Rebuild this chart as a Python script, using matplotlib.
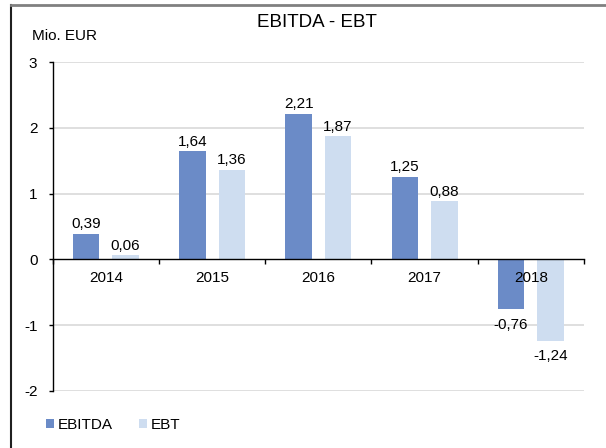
import numpy as np
import matplotlib
matplotlib.use("Agg")
import matplotlib.pyplot as plt
from matplotlib.lines import Line2D

plt.rcParams["font.family"] = ["Liberation Sans", "DejaVu Sans"]
plt.rcParams["axes.unicode_minus"] = False

jahre = ["2014", "2015", "2016", "2017", "2018"]
ebitda = [0.39, 1.64, 2.21, 1.25, -0.76]
ebt = [0.06, 1.36, 1.87, 0.88, -1.24]

farbe_ebitda = "#6B8BC7"
farbe_ebt = "#CEDDF0"

fig = plt.figure(figsize=(6.06, 4.48), dpi=100)
ax = fig.add_axes([52.7 / 606, 1 - 391 / 448, (584 - 52.7) / 606, (391 - 62) / 448])

x = np.arange(len(jahre))
b1 = ax.bar(x - 0.186, ebitda, width=0.25, color=farbe_ebitda, label="EBITDA", zorder=1)
b2 = ax.bar(x + 0.186, ebt, width=0.25, color=farbe_ebt, label="EBT", zorder=1)

def beschriften(bars, werte):
    for rect, w in zip(bars, werte):
        txt = f"{w:.2f}".replace(".", ",")
        cx = rect.get_x() + rect.get_width() / 2
        if w >= 0:
            ax.annotate(txt, (cx, w), xytext=(0, 2), textcoords="offset points",
                        ha="center", va="bottom", fontsize=11, zorder=5)
        else:
            ax.annotate(txt, (cx, w), xytext=(0, -6), textcoords="offset points",
                        ha="center", va="top", fontsize=11, zorder=5)

beschriften(b1, ebitda)
beschriften(b2, ebt)

ax.set_xlim(-0.5, 4.5)
ax.set_ylim(-2, 3)
ax.set_yticks(range(-2, 4))
for yv in range(-2, 4):
    if yv != 0:
        ax.axhline(yv, color="#D9D9D9", lw=1.2, zorder=0)

ax.set_axisbelow(False)
ax.spines["top"].set_visible(False)
ax.spines["right"].set_visible(False)
ax.spines["bottom"].set_position(("data", 0))
ax.spines["bottom"].set_linewidth(1.0)
ax.spines["left"].set_linewidth(1.0)

ax.set_xticks(np.arange(-0.5, 5, 1.0))
ax.set_xticklabels([])
ax.set_xticks(x, minor=True)
ax.set_xticklabels(jahre, minor=True)
ax.tick_params(axis="x", which="major", direction="out", length=3.6, width=1.0)
ax.tick_params(axis="x", which="minor", length=0, pad=8, labelsize=11)
ax.tick_params(axis="y", direction="out", length=3, width=1.0, pad=8, labelsize=11)

fig.text(317 / 606, 1 - 27 / 448, "EBITDA - EBT", ha="center", va="baseline", fontsize=13.5)
fig.text(32 / 606, 1 - 40 / 448, "Mio. EUR", ha="left", va="baseline", fontsize=11)

fig.legend(handles=[b1, b2], labels=["EBITDA", "EBT"], loc="center left",
           bbox_to_anchor=(46 / 606, 1 - 425 / 448), ncol=2, frameon=False,
           fontsize=11, handlelength=0.5, handleheight=0.5, handletextpad=0.25,
           columnspacing=1.75, borderpad=0, borderaxespad=0)

# Rahmen links und oben
fig.add_artist(Line2D([11 / 606, 11 / 606], [0, 1 - 5 / 448], transform=fig.transFigure,
                      color="#202020", lw=1.5))
fig.add_artist(Line2D([11 / 606, 1], [1 - 5 / 448, 1 - 5 / 448], transform=fig.transFigure,
                      color="#808080", lw=2))

fig.savefig("out.png", dpi=100)
